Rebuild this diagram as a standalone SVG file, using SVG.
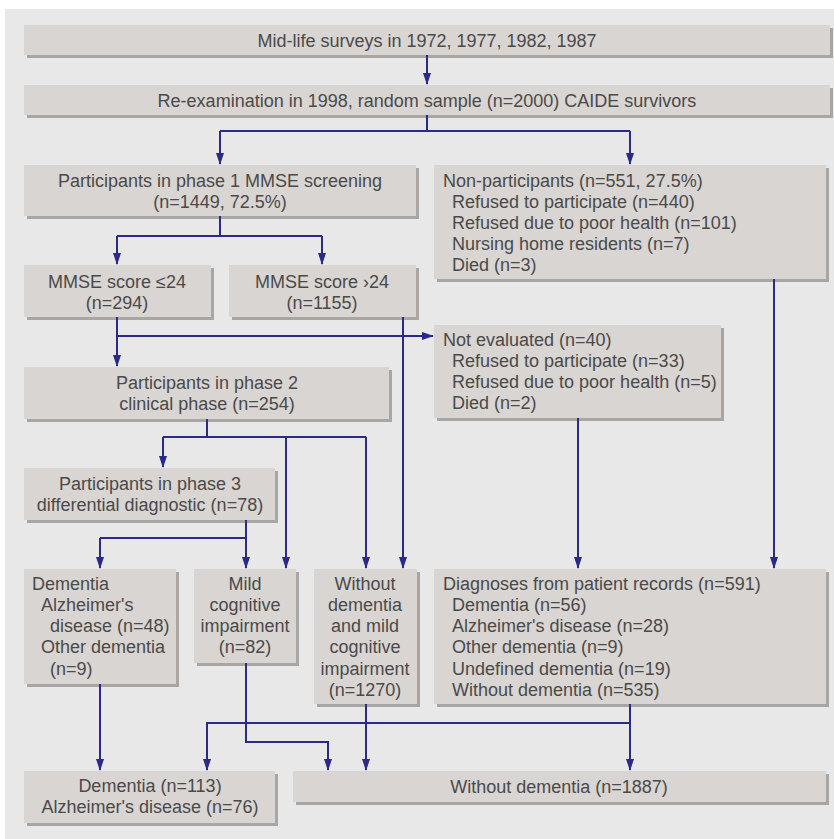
<svg xmlns="http://www.w3.org/2000/svg" width="834" height="839" viewBox="0 0 834 839">
<style>
.box{fill:#d9d5d2}
.sh{fill:#a9a5a2}
text{font-family:"Liberation Sans",Arial,sans-serif;font-size:18px;fill:#4a4a4a}
.c{text-anchor:middle}
.ln{fill:none;stroke:#2b2a88;stroke-width:2}
</style>
<defs>
<marker id="ah" markerUnits="userSpaceOnUse" markerWidth="8" markerHeight="12" refX="4" refY="11" orient="0" viewBox="0 0 8 12">
<path d="M0,0 L8,0 L4,12 z" fill="#2b2a88"/>
</marker>
<marker id="ar" markerUnits="userSpaceOnUse" markerWidth="12" markerHeight="8" refX="11" refY="4" orient="0" viewBox="0 0 12 8">
<path d="M0,0 L12,4 L0,8 z" fill="#2b2a88"/>
</marker>
</defs>
<rect x="0" y="0" width="834" height="839" fill="#ffffff"/>
<rect x="5" y="9" width="829" height="830" fill="#e8e8e8"/>

<g id="n1"><rect class="sh" x="27" y="28" width="806" height="30"/><rect class="box" x="24" y="25" width="806" height="30"/>
<text class="c" x="427" y="47">Mid-life surveys in 1972, 1977, 1982, 1987</text></g>

<g id="n2"><rect class="sh" x="27" y="88" width="806" height="30"/><rect class="box" x="24" y="85" width="806" height="30"/>
<text class="c" x="427" y="107">Re-examination in 1998, random sample (n=2000) CAIDE survivors</text></g>

<g id="n3"><rect class="sh" x="27" y="168" width="392" height="51"/><rect class="box" x="24" y="165" width="392" height="51"/>
<text class="c" x="220" y="187">Participants in phase 1 MMSE screening</text>
<text class="c" x="220" y="208">(n=1449, 72.5%)</text></g>

<g id="n4"><rect class="sh" x="437" y="168" width="392" height="114"/><rect class="box" x="434" y="165" width="392" height="114"/>
<text x="443" y="187">Non-participants (n=551, 27.5%)</text>
<text x="452" y="208">Refused to participate (n=440)</text>
<text x="452" y="229">Refused due to poor health (n=101)</text>
<text x="452" y="250">Nursing home residents (n=7)</text>
<text x="452" y="271">Died (n=3)</text></g>

<g id="n5"><rect class="sh" x="27" y="268" width="187" height="52"/><rect class="box" x="24" y="265" width="187" height="52"/>
<text class="c" x="117" y="288">MMSE score ≤24</text>
<text class="c" x="117" y="309">(n=294)</text></g>

<g id="n6"><rect class="sh" x="232" y="268" width="187" height="52"/><rect class="box" x="229" y="265" width="187" height="52"/>
<text class="c" x="322" y="288">MMSE score ›24</text>
<text class="c" x="322" y="309">(n=1155)</text></g>

<g id="n7"><rect class="sh" x="437" y="328" width="287" height="93"/><rect class="box" x="434" y="325" width="287" height="93"/>
<text x="443" y="346">Not evaluated (n=40)</text>
<text x="452" y="367">Refused to participate (n=33)</text>
<text x="452" y="388">Refused due to poor health (n=5)</text>
<text x="452" y="409">Died (n=2)</text></g>

<g id="n8"><rect class="sh" x="27" y="370" width="365" height="52"/><rect class="box" x="24" y="367" width="365" height="52"/>
<text class="c" x="207" y="389">Participants in phase 2</text>
<text class="c" x="207" y="410">clinical phase (n=254)</text></g>

<g id="n9"><rect class="sh" x="27" y="471" width="251" height="52"/><rect class="box" x="24" y="468" width="251" height="52"/>
<text class="c" x="150" y="490">Participants in phase 3</text>
<text class="c" x="150" y="511">differential diagnostic (n=78)</text></g>

<g id="n10"><rect class="sh" x="27" y="572" width="152" height="115"/><rect class="box" x="24" y="569" width="152" height="115"/>
<text x="32" y="590">Dementia</text>
<text x="41" y="611">Alzheimer's</text>
<text x="50" y="632">disease (n=48)</text>
<text x="41" y="653">Other dementia</text>
<text x="50" y="675">(n=9)</text></g>

<g id="n11"><rect class="sh" x="197" y="572" width="102" height="94"/><rect class="box" x="194" y="569" width="102" height="94"/>
<text class="c" x="245" y="590">Mild</text>
<text class="c" x="245" y="611">cognitive</text>
<text class="c" x="245" y="632">impairment</text>
<text class="c" x="245" y="653">(n=82)</text></g>

<g id="n12"><rect class="sh" x="317" y="572" width="103" height="135"/><rect class="box" x="314" y="569" width="103" height="135"/>
<text class="c" x="365" y="590">Without</text>
<text class="c" x="365" y="611">dementia</text>
<text class="c" x="365" y="632">and mild</text>
<text class="c" x="365" y="653">cognitive</text>
<text class="c" x="365" y="675">impairment</text>
<text class="c" x="365" y="696">(n=1270)</text></g>

<g id="n13"><rect class="sh" x="437" y="572" width="392" height="135"/><rect class="box" x="434" y="569" width="392" height="135"/>
<text x="443" y="590">Diagnoses from patient records (n=591)</text>
<text x="452" y="611">Dementia (n=56)</text>
<text x="452" y="632">Alzheimer's disease (n=28)</text>
<text x="452" y="653">Other dementia (n=9)</text>
<text x="452" y="675">Undefined dementia (n=19)</text>
<text x="452" y="696">Without dementia (n=535)</text></g>

<g id="n14"><rect class="sh" x="27" y="774" width="251" height="52"/><rect class="box" x="24" y="771" width="251" height="52"/>
<text class="c" x="150" y="792">Dementia (n=113)</text>
<text class="c" x="150" y="813">Alzheimer's disease (n=76)</text></g>

<g id="n15"><rect class="sh" x="296" y="774" width="533" height="31"/><rect class="box" x="293" y="771" width="533" height="31"/>
<text class="c" x="559" y="793">Without dementia (n=1887)</text></g>

<g id="connectors">
<path class="ln" d="M427,55 V84" marker-end="url(#ah)"/>
<path class="ln" d="M427,115 V131 M220,131 H630"/>
<path class="ln" d="M220,131 V164" marker-end="url(#ah)"/>
<path class="ln" d="M630,131 V164" marker-end="url(#ah)"/>
<path class="ln" d="M220,216 V236 M117,236 H322"/>
<path class="ln" d="M117,236 V264" marker-end="url(#ah)"/>
<path class="ln" d="M322,236 V264" marker-end="url(#ah)"/>
<path class="ln" d="M117,317 V366" marker-end="url(#ah)"/>
<path class="ln" d="M117,336 H433" marker-end="url(#ar)"/>
<path class="ln" d="M403,317 V568" marker-end="url(#ah)"/>
<path class="ln" d="M774,279 V568" marker-end="url(#ah)"/>
<path class="ln" d="M578,418 V568" marker-end="url(#ah)"/>
<path class="ln" d="M207,419 V437 M163,437 H366"/>
<path class="ln" d="M163,437 V467" marker-end="url(#ah)"/>
<path class="ln" d="M286,437 V568" marker-end="url(#ah)"/>
<path class="ln" d="M366,437 V568" marker-end="url(#ah)"/>
<path class="ln" d="M246,520 V538 M100,538 H246"/>
<path class="ln" d="M100,538 V568" marker-end="url(#ah)"/>
<path class="ln" d="M246,538 V568" marker-end="url(#ah)"/>
<path class="ln" d="M100,684 V770" marker-end="url(#ah)"/>
<path class="ln" d="M246,663 V742 H328 V770" marker-end="url(#ah)"/>
<path class="ln" d="M366,704 V770" marker-end="url(#ah)"/>
<path class="ln" d="M630,704 V770" marker-end="url(#ah)"/>
<path class="ln" d="M630,723 H207 V770" marker-end="url(#ah)"/>
</g>
</svg>
